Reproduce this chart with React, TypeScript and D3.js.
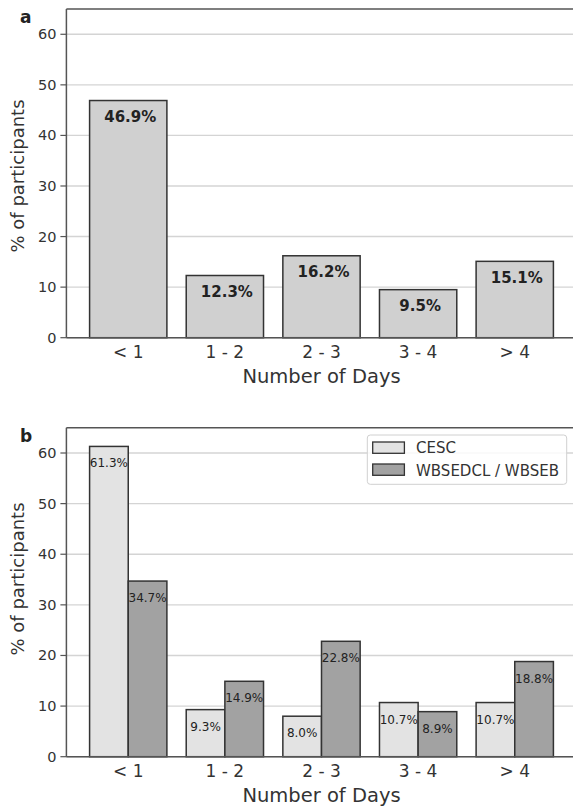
import React from "react";
import * as d3 from "d3";

const categories = ["< 1", "1 - 2", "2 - 3", "3 - 4", "> 4"];
const overallValues = [46.9, 12.3, 16.2, 9.5, 15.1];
const cescValues = [61.3, 9.3, 8.0, 10.7, 10.7];
const wbsedclValues = [34.7, 14.9, 22.8, 8.9, 18.8];
const seriesNames = ["CESC", "WBSEDCL / WBSEB"];
const yTicks = [0, 10, 20, 30, 40, 50, 60];

const FONT = "DejaVu Sans, sans-serif";
const W = 573;
const H = 806;

type PanelProps = {
  top: number;
  bottom: number;
  letter: string;
  ylabelY: number;
  children: (x: d3.ScaleLinear<number, number>, y: d3.ScaleLinear<number, number>) => React.ReactNode;
};

const left = 66.4;
const right = 576.6;

function Panel({ top, bottom, letter, ylabelY, children }: PanelProps) {
  const x = d3.scaleLinear().domain([-0.64, 4.64]).range([left, right]);
  const y = d3.scaleLinear().domain([0, 65]).range([bottom, top]);
  return (
    <g>
      {yTicks.map((t) => (
        <line key={"g" + t} x1={left} x2={right} y1={y(t)} y2={y(t)} stroke="#d4d4d4" strokeWidth={1.4} />
      ))}
      {children(x, y)}
      {/* spines */}
      <line x1={left} x2={right} y1={top} y2={top} stroke="#555" strokeWidth={1.5} />
      <line x1={left} x2={right} y1={bottom} y2={bottom} stroke="#555" strokeWidth={1.5} />
      <line x1={left} x2={left} y1={top} y2={bottom} stroke="#555" strokeWidth={1.5} />
      {yTicks.map((t) => (
        <g key={"t" + t}>
          <line x1={left - 6} x2={left} y1={y(t)} y2={y(t)} stroke="#555" strokeWidth={1.2} />
          <text x={left - 10} y={y(t) + 5} textAnchor="end" fontSize={14.5} fill="#333" fontFamily={FONT}>
            {t}
          </text>
        </g>
      ))}
      {categories.map((c, i) => (
        <text key={c} x={x(i)} y={bottom + 20} textAnchor="middle" fontSize={17} fill="#333" fontFamily={FONT}>
          {c}
        </text>
      ))}
      <text x={(left + right) / 2} y={bottom + 45.5} textAnchor="middle" fontSize={19.5} fill="#333" fontFamily={FONT}>
        Number of Days
      </text>
      <text
        transform={`translate(24,${ylabelY}) rotate(-90)`}
        textAnchor="middle"
        fontSize={18}
        fill="#333"
        fontFamily={FONT}
      >
        % of participants
      </text>
      <text x={20} y={top + 14} fontSize={17} fontWeight="bold" fill="#222" fontFamily={FONT}>
        {letter}
      </text>
    </g>
  );
}

export default function App() {
  return (
    <svg
      width={W}
      height={H}
      viewBox={`0 0 ${W} ${H}`}
      style={{ position: "absolute", left: 0, top: 0, background: "#fff", display: "block" }}
    >
      <rect width={W} height={H} fill="#fff" />
      <Panel top={9} bottom={337.7} letter="a" ylabelY={176}>
        {(x, y) =>
          overallValues.map((v, i) => (
            <g key={i}>
              <rect
                x={x(i - 0.4)}
                y={y(v)}
                width={x(0.4) - x(-0.4)}
                height={y(0) - y(v)}
                fill="#d0d0d0"
                stroke="#333"
                strokeWidth={1.5}
              />
              <text
                x={x(i) + 2}
                y={y(v) + 21.5}
                textAnchor="middle"
                fontSize={15}
                fontWeight="bold"
                fill="#222"
                fontFamily={FONT}
              >
                {v.toFixed(1)}%
              </text>
            </g>
          ))
        }
      </Panel>
      <Panel top={427.7} bottom={756.7} letter="b" ylabelY={579}>
        {(x, y) => (
          <g>
            {[cescValues, wbsedclValues].map((vals, s) =>
              vals.map((v, i) => {
                const x0 = i - 0.4 + s * 0.4;
                return (
                  <g key={s + "-" + i}>
                    <rect
                      x={x(x0)}
                      y={y(v)}
                      width={x(0.4) - x(0)}
                      height={y(0) - y(v)}
                      fill={s === 0 ? "#e3e3e3" : "#a2a2a2"}
                      stroke="#333"
                      strokeWidth={1.5}
                    />
                    <text
                      x={x(x0 + 0.2)}
                      y={y(v) + 21}
                      textAnchor="middle"
                      fontSize={12}
                      fill="#222"
                      fontFamily={FONT}
                    >
                      {v.toFixed(1)}%
                    </text>
                  </g>
                );
              })
            )}
            <g>
              <rect x={367.3} y={435} width={199.4} height={49.3} rx={3} fill="#fff" fillOpacity={0.85} stroke="#d0d0d0" strokeWidth={1} />
              {seriesNames.map((n, k) => (
                <g key={n}>
                  <rect
                    x={372.7}
                    y={442 + k * 22}
                    width={31.7}
                    height={11.3}
                    fill={k === 0 ? "#e3e3e3" : "#a2a2a2"}
                    stroke="#333"
                    strokeWidth={1.3}
                  />
                  <text x={416} y={453.3 + k * 22.7} fontSize={15} fill="#333" fontFamily={FONT}>
                    {n}
                  </text>
                </g>
              ))}
            </g>
          </g>
        )}
      </Panel>
    </svg>
  );
}
